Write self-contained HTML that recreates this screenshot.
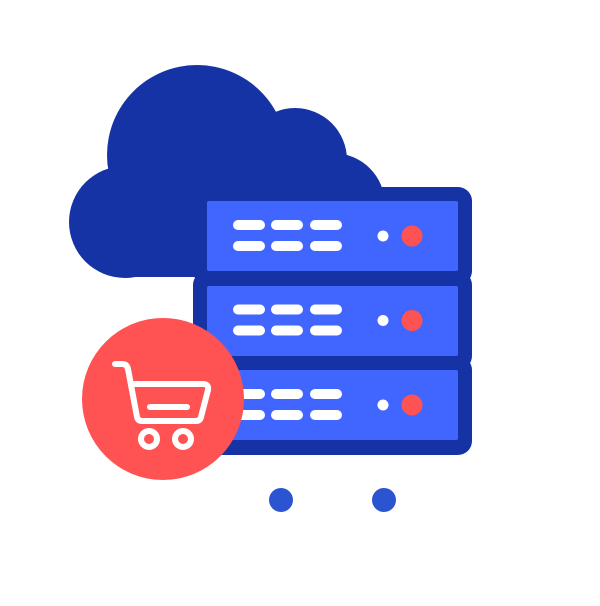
<!DOCTYPE html>
<html><head><style>html,body{margin:0;padding:0;background:#fff}</style></head><body>
<svg width="600" height="601" viewBox="0 0 600 601" xmlns="http://www.w3.org/2000/svg">
<g fill="#1533a5">
<circle cx="197" cy="155" r="90"/>
<circle cx="295" cy="160" r="52"/>
<circle cx="333" cy="205" r="52"/>
<circle cx="125" cy="222" r="56"/>
<rect x="125" y="200" width="260" height="77"/>
<rect x="193" y="187" width="279" height="98" rx="14"/>
<rect x="193" y="271" width="279" height="99" rx="14"/>
<rect x="193" y="356" width="279" height="99" rx="14"/>
</g>
<g fill="#4066ff">
<rect x="207" y="201" width="251" height="70" rx="2"/>
<rect x="207" y="286" width="251" height="70" rx="2"/>
<rect x="207" y="370" width="251" height="70" rx="2"/>
</g>
<g fill="#fff">
<g id="u">
<rect x="233" y="220" width="32" height="10" rx="5"/><rect x="271" y="220" width="32" height="10" rx="5"/><rect x="310" y="220" width="32" height="10" rx="5"/>
<rect x="233" y="241" width="32" height="10" rx="5"/><rect x="271" y="241" width="32" height="10" rx="5"/><rect x="310" y="241" width="32" height="10" rx="5"/>
<circle cx="383" cy="236" r="5.5"/>
<circle cx="412" cy="236" r="10.5" fill="#ff5252"/>
</g>
<use href="#u" y="84.5"/>
<use href="#u" y="169"/>
</g>
<circle cx="163" cy="399" r="81" fill="#ff5252"/>
<g fill="none" stroke="#fff" stroke-width="6" stroke-linecap="round" stroke-linejoin="round">
<path d="M115 364 H122 Q127 364 128 369 L137 417 Q138 421 142 421 H196 Q200 421 201 417 L208 390 Q209 384 203 384 H135"/>
<path d="M150 407 H187"/>
<circle cx="149" cy="439" r="8"/>
<circle cx="183" cy="439" r="8"/>
</g>
<circle cx="281" cy="500" r="12" fill="#2b55d0"/>
<circle cx="384" cy="500" r="12" fill="#2b55d0"/>
</svg>
</body></html>
